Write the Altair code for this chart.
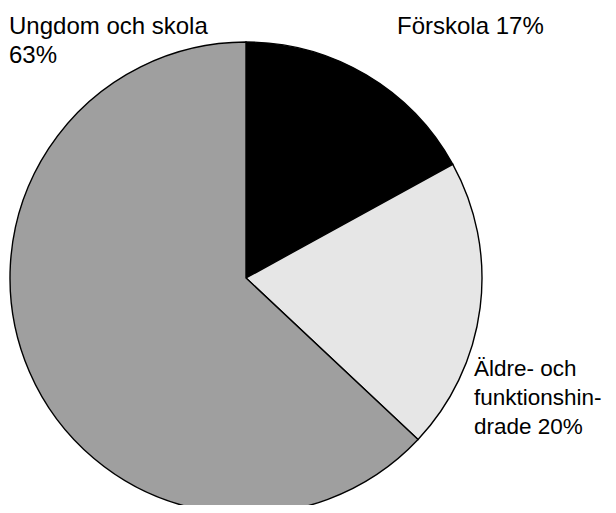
import altair as alt
import pandas as pd

categories = ["Förskola", "Äldre- och funktionshindrade", "Ungdom och skola"]
values = [17, 20, 63]
colors = ["#000000", "#e6e6e6", "#9f9f9f"]
order = [1, 2, 3]

df = pd.DataFrame({"kategori": categories, "andel": values, "ordning": order})

FONT = "Liberation Sans"
FS = 24

pie = alt.Chart(df).mark_arc(radius=236, stroke="#000000", strokeWidth=1.4).encode(
    theta=alt.Theta("andel:Q", stack=True),
    order=alt.Order("ordning:Q"),
    color=alt.Color("kategori:N", scale=alt.Scale(domain=categories, range=colors), legend=None),
    x=alt.value(238),
    y=alt.value(270),
)

label_ungdom = ["Ungdom och skola", "63%"]
label_forskola = "Förskola 17%"
label_aldre = ["Äldre- och", "funktionshin-", "drade 20%"]

def txt(text, x, y, fs=FS):
    return alt.Chart(pd.DataFrame({"t": [0]})).mark_text(
        text=text, align="left", baseline="alphabetic", font=FONT, fontSize=fs,
        lineHeight=29, color="#000000"
    ).encode(x=alt.value(x), y=alt.value(y))

chart = alt.layer(
    pie,
    txt(label_ungdom, 1, 26),
    txt(label_forskola, 389, 26),
    txt(label_aldre, 466, 368, 22.5),
).properties(width=600, height=497, padding=0, autosize=alt.AutoSizeParams(type="none")).configure_view(stroke=None)

chart.save("out.html", embed_options={"renderer": "svg", "actions": False})
